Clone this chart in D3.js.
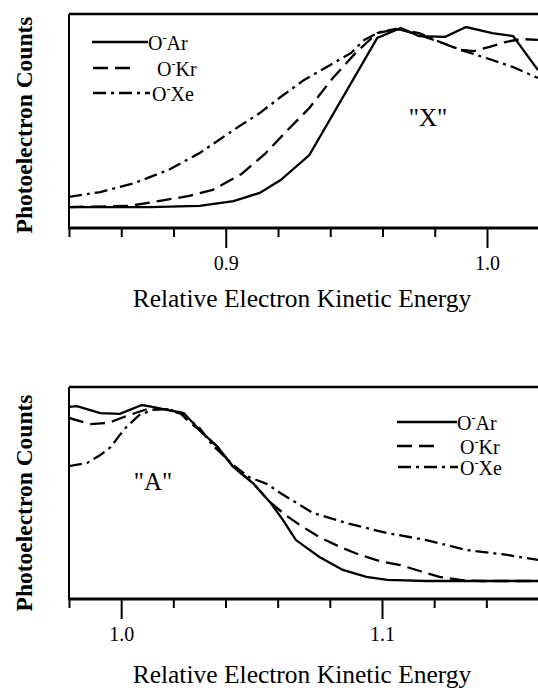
<!DOCTYPE html>
<html>
<head>
<meta charset="utf-8">
<script src="https://cdn.jsdelivr.net/npm/d3@7"></script>
<style>
body { margin: 0; background: #fff; }
text { font-family: "Liberation Serif", "Times New Roman", serif; fill: #000; }
</style>
</head>
<body>
<div class="chart"></div>
<script>
// "X" band (upper panel): [relative eKE, normalised counts]
var arTop = [[0.840,0.098],[0.871,0.098],[0.890,0.103],[0.903,0.126],[0.913,0.164],[0.921,0.224],
  [0.932,0.341],[0.958,0.888],[0.967,0.935],[0.974,0.897],[0.984,0.893],[0.992,0.939],
  [1.002,0.911],[1.010,0.897],[1.0195,0.738]];
var krTop = [[0.840,0.098],[0.863,0.103],[0.877,0.131],[0.886,0.150],[0.895,0.178],[0.906,0.252],
  [0.915,0.346],[0.923,0.449],[0.932,0.561],[0.941,0.701],[0.950,0.822],[0.958,0.911],
  [0.966,0.930],[0.974,0.902],[0.982,0.869],[0.990,0.832],[0.995,0.827],[1.001,0.846],
  [1.007,0.869],[1.013,0.883],[1.0195,0.879]];
var xeTop = [[0.840,0.145],[0.852,0.168],[0.865,0.210],[0.878,0.271],[0.890,0.350],[0.903,0.458],
  [0.913,0.537],[0.921,0.612],[0.930,0.692],[0.940,0.762],[0.948,0.818],[0.953,0.879],
  [0.959,0.916],[0.965,0.930],[0.974,0.911],[0.982,0.869],[0.990,0.832],[1.002,0.785],
  [1.010,0.752],[1.0195,0.701]];

// "A" band (lower panel)
var arBot = [[0.980,0.906],[0.983,0.910],[0.992,0.877],[0.9995,0.873],[1.008,0.915],[1.012,0.906],
  [1.0175,0.892],[1.024,0.877],[1.030,0.797],[1.037,0.717],[1.043,0.623],[1.0505,0.547],
  [1.057,0.458],[1.062,0.373],[1.067,0.278],[1.076,0.198],[1.085,0.137],[1.094,0.104],
  [1.102,0.090],[1.117,0.085],[1.160,0.085]];
var krBot = [[0.980,0.854],[0.988,0.825],[0.995,0.830],[1.002,0.863],[1.010,0.896],[1.0175,0.896],
  [1.023,0.873],[1.026,0.835],[1.030,0.797],[1.037,0.717],[1.043,0.623],[1.0505,0.547],
  [1.057,0.458],[1.063,0.396],[1.0685,0.349],[1.076,0.292],[1.084,0.245],[1.0915,0.208],
  [1.099,0.179],[1.107,0.160],[1.1145,0.132],[1.122,0.104],[1.130,0.090],[1.1375,0.085],
  [1.160,0.085]];
var xeBot = [[0.980,0.627],[0.987,0.642],[0.992,0.679],[0.996,0.717],[0.9995,0.774],[1.002,0.811],
  [1.007,0.868],[1.012,0.892],[1.0175,0.896],[1.0225,0.882],[1.025,0.858],[1.030,0.807],
  [1.035,0.726],[1.043,0.632],[1.049,0.575],[1.056,0.542],[1.061,0.500],[1.0735,0.406],
  [1.0865,0.358],[1.102,0.311],[1.117,0.278],[1.1325,0.231],[1.148,0.208],[1.160,0.184]];

var topTicks = [0.84,0.86,0.88,0.90,0.92,0.94,0.96,0.98,1.00,1.02];
var topLabels = [0.9, 1.0];
var botTicks = [0.98,1.00,1.02,1.04,1.06,1.08,1.10,1.12,1.14,1.16];
var botLabels = [1.0, 1.1];

var legendNames = ["Ar", "Kr", "Xe"];
var dashes = [null, "15,7", "13,5,3,5"];

var width = 538, height = 688;

var svg = d3.select(".chart")
    .append("svg")
    .attr("width", width)
    .attr("height", height);

var defs = svg.append("defs");

function drawPanel(p) {
    var xRange = d3.scaleLinear().domain(p.xDom).range(p.xRng);
    var yRange = d3.scaleLinear().domain([0, 1]).range([p.bottom, p.top]);

    defs.append("clipPath").attr("id", p.id)
        .append("rect")
        .attr("x", p.left).attr("y", p.top)
        .attr("width", width - p.left).attr("height", p.bottom - p.top);

    var line = d3.line()
        .x(function(d) { return xRange(d[0]); })
        .y(function(d) { return yRange(d[1]); });

    var g = svg.append("g");

    p.series.forEach(function(s, i) {
        g.append("path")
            .datum(s)
            .attr("clip-path", "url(#" + p.id + ")")
            .attr("fill", "none")
            .attr("stroke", "#000")
            .attr("stroke-width", 2.3)
            .attr("stroke-dasharray", dashes[i])
            .attr("d", line);
    });

    // frame: top and left, right side runs off the page
    g.append("line").attr("x1", p.left).attr("x2", width).attr("y1", p.top).attr("y2", p.top)
        .attr("stroke", "#000").attr("stroke-width", 2.5);
    g.append("line").attr("x1", p.left).attr("x2", p.left).attr("y1", p.top).attr("y2", p.bottom)
        .attr("stroke", "#000").attr("stroke-width", 2);

    var xAxis = d3.axisBottom()
        .scale(xRange)
        .tickValues(p.ticks)
        .tickSize(9)
        .tickFormat(function(d) {
            var lab = p.labels.filter(function(l) { return Math.abs(l - d) < 1e-6; });
            return lab.length ? d3.format(".1f")(d) : "";
        });

    var ax = g.append("g")
        .attr("class", "xAxis")
        .attr("transform", "translate(0," + p.bottom + ")")
        .call(xAxis);

    ax.select(".domain").remove();
    ax.selectAll(".tick line")
        .attr("stroke", "#000")
        .attr("stroke-width", 2)
        .attr("y2", function(d) {
            return p.labels.some(function(l) { return Math.abs(l - d) < 1e-6; }) ? 20 : 9;
        });
    ax.selectAll(".tick text")
        .attr("y", 42)
        .attr("dy", 0)
        .attr("fill", "#000")
        .style("font-family", "Liberation Serif")
        .style("font-size", "20px");

    g.append("line").attr("x1", p.left - 1).attr("x2", width).attr("y1", p.bottom).attr("y2", p.bottom)
        .attr("stroke", "#000").attr("stroke-width", 3);

    g.append("text")
        .attr("x", 302)
        .attr("y", p.bottom + p.titleDy)
        .attr("text-anchor", "middle")
        .style("font-size", "25.5px")
        .text("Relative Electron Kinetic Energy");

    g.append("text")
        .attr("transform", "translate(32," + p.yMid + ") rotate(-90)")
        .attr("text-anchor", "middle")
        .style("font-size", "23.5px")
        .style("font-weight", "bold")
        .text("Photoelectron Counts");

    g.append("text")
        .attr("x", p.band[0])
        .attr("y", p.band[1])
        .attr("text-anchor", "middle")
        .style("font-size", "25px")
        .text('"' + p.band[2] + '"');

    // legend
    p.legend.forEach(function(l, i) {
        g.append("line")
            .attr("x1", l.x1).attr("x2", l.x2)
            .attr("y1", l.y).attr("y2", l.y)
            .attr("stroke", "#000")
            .attr("stroke-width", 2.3)
            .attr("stroke-dasharray", dashes[i]);
        var t = g.append("text")
            .attr("x", l.tx)
            .attr("y", l.y + 8)
            .style("font-size", "20px");
        t.append("tspan").text("O");
        t.append("tspan").style("font-size", "12px").attr("dy", -8).text("-");
        t.append("tspan").attr("dy", 8).text(legendNames[i]);
    });
}

drawPanel({
    id: "clipTop",
    left: 69, top: 14, bottom: 228,
    xDom: [0.84, 1.0], xRng: [69, 487],
    ticks: topTicks, labels: topLabels,
    series: [arTop, krTop, xeTop],
    titleDy: 79, yMid: 125,
    band: [428, 126, "X"],
    legend: [
        { x1: 92, x2: 148, y: 42, tx: 148 },
        { x1: 93, x2: 135, y: 68, tx: 157 },
        { x1: 93, x2: 150, y: 93, tx: 152 }
    ]
});

drawPanel({
    id: "clipBot",
    left: 69, top: 387, bottom: 599,
    xDom: [0.98, 1.1], xRng: [69, 382],
    ticks: botTicks, labels: botLabels,
    series: [arBot, krBot, xeBot],
    titleDy: 84, yMid: 503,
    band: [153, 490, "A"],
    legend: [
        { x1: 397, x2: 457, y: 422, tx: 457 },
        { x1: 397, x2: 435, y: 446, tx: 460 },
        { x1: 398, x2: 458, y: 467, tx: 460 }
    ]
});
</script>
</body>
</html>
